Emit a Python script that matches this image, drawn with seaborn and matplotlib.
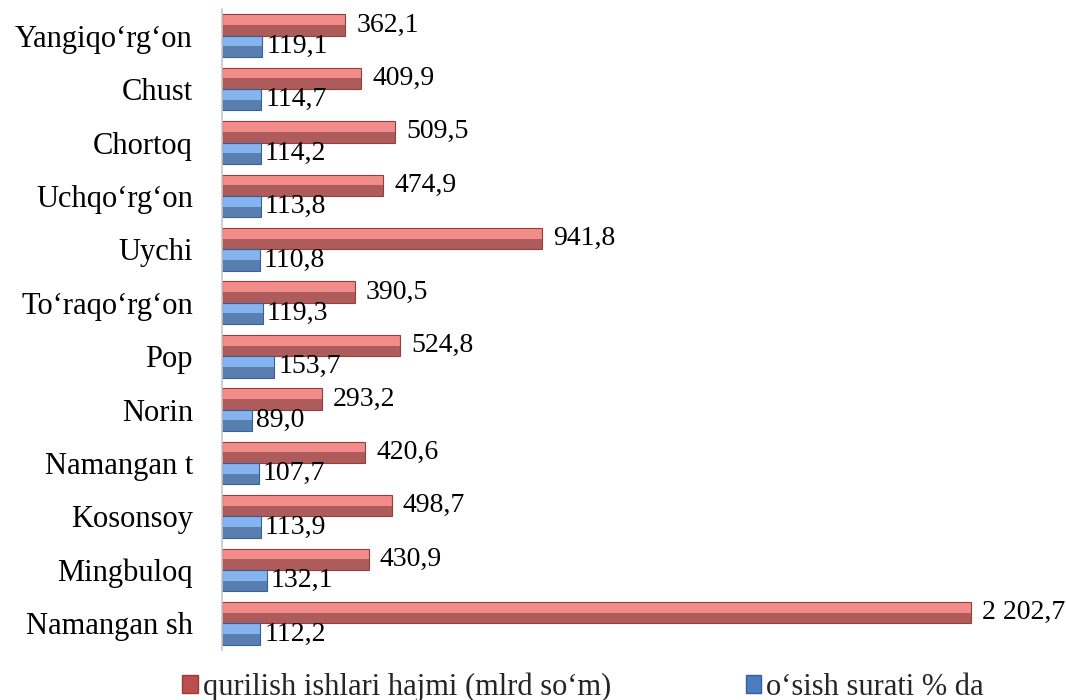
import matplotlib
matplotlib.use("Agg")
import matplotlib.pyplot as plt
from matplotlib.patches import Rectangle, Patch
import seaborn as sns
import pandas as pd

categories = ["Yangiqo‘rg‘on", "Chust", "Chortoq", "Uchqo‘rg‘on", "Uychi",
              "To‘raqo‘rg‘on", "Pop", "Norin", "Namangan t", "Kosonsoy",
              "Mingbuloq", "Namangan sh"]
volume = [362.1, 409.9, 509.5, 474.9, 941.8, 390.5, 524.8, 293.2, 420.6, 498.7, 430.9, 2202.7]
growth = [119.1, 114.7, 114.2, 113.8, 110.8, 119.3, 153.7, 89.0, 107.7, 113.9, 132.1, 112.2]
series_names = ["qurilish ishlari hajmi (mlrd so‘m)", "o‘sish surati % da"]

df = pd.DataFrame({
    "region": categories * 2,
    "value": volume + growth,
    "series": [series_names[0]] * len(categories) + [series_names[1]] * len(categories),
})

sns.set_theme(style="white")
plt.rcParams["font.family"] = ["Liberation Serif", "DejaVu Serif"]

base_cols = {series_names[0]: "#BC4F4D", series_names[1]: "#4A7CBF"}
light_cols = {series_names[0]: "#F28C8A", series_names[1]: "#86B4EE"}
edge_cols = {series_names[0]: "#9A3C3A", series_names[1]: "#37609A"}

fig = plt.figure(figsize=(10.66, 7.0), dpi=100)
ax = fig.add_axes([222 / 1066, 1 - 650 / 700, 844 / 1066, 641 / 700])

sns.barplot(data=df, y="region", x="value", hue="series", hue_order=series_names,
            palette=base_cols, orient="h", width=0.8, ax=ax, legend=False,
            edgecolor="none", linewidth=0)

# bevel-like highlight on the upper half of each bar
for cont, name in zip(ax.containers, series_names):
    for p in cont.patches:
        x0, y0 = p.get_x(), p.get_y()
        w, h = p.get_width(), p.get_height()
        ax.add_patch(Rectangle((x0, y0), w, h * 0.5, facecolor=light_cols[name],
                               edgecolor="none", zorder=p.get_zorder() + 0.1))
        ax.add_patch(Rectangle((x0, y0), w, h, facecolor="none",
                               edgecolor=edge_cols[name], linewidth=0.8,
                               zorder=p.get_zorder() + 0.2))

def fmt(v):
    s = f"{v:,.1f}"
    return s.replace(",", " ").replace(".", ",")

pads = [8, 3]
for cont, vals, pad in zip(ax.containers, [volume, growth], pads):
    ax.bar_label(cont, labels=[fmt(v) for v in vals], padding=pad,
                 fontsize=20, color="black", family=["Liberation Serif"])

ax.set_xlim(0, 2482)
ax.set_xlabel("")
ax.set_ylabel("")
ax.set_xticks([])
for s in ["top", "right", "bottom"]:
    ax.spines[s].set_visible(False)
ax.spines["left"].set_color("#C8C8C8")
ax.spines["left"].set_linewidth(1.2)
ax.tick_params(axis="y", length=0, pad=21, labelsize=22, labelcolor="black")

handles = [Patch(facecolor=base_cols[n], edgecolor=edge_cols[n], label=n) for n in series_names]
fig.legend(handles=handles, loc="center", bbox_to_anchor=(583 / 1066, 1 - 687 / 700),
           ncol=2, frameon=False, fontsize=22, handlelength=0.52, handleheight=0.52,
           handletextpad=0.15, columnspacing=4.4, borderpad=0)

fig.savefig("out.png", dpi=100)
